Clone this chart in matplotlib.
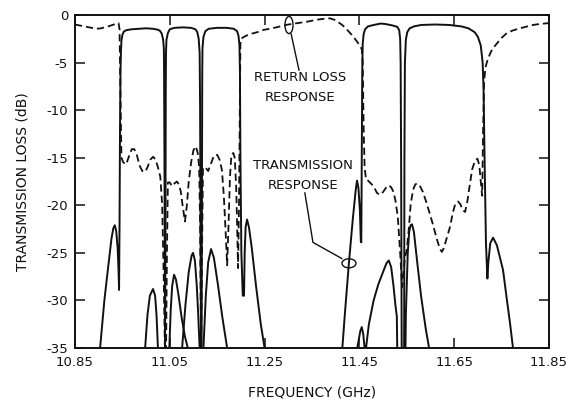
import matplotlib
matplotlib.use("Agg")
import matplotlib.pyplot as plt
from matplotlib.patches import Ellipse

# ---- data (GHz, dB) ----
ch1_f = [10.895, 10.903, 10.912, 10.920, 10.927, 10.931, 10.934, 10.937, 10.940, 10.942, 10.943,
         10.9440, 10.9450, 10.9460, 10.947, 10.948, 10.950, 10.953, 10.958, 10.970, 10.985, 11.000,
         11.015, 11.025, 11.029, 11.033, 11.036, 11.0375, 11.038, 11.039, 11.040, 11.041,
         11.047, 11.049, 11.052, 11.055, 11.059, 11.063, 11.068, 11.075, 11.082, 11.088, 11.092]
ch1_db = [-40, -35, -30, -26.5, -23.5, -22.4, -22.1, -22.7, -24.5, -27, -28.9,
          -22, -12, -6, -3.8, -2.7, -2.1, -1.75, -1.6, -1.5, -1.45, -1.4,
          -1.45, -1.55, -1.65, -1.95, -2.6, -3.5, -6, -18, -35, -40,
          -40, -35, -31, -28.5, -27.3, -27.8, -29.3, -31.8, -33.8, -35, -40]

ch2_f = [10.995, 10.998, 11.003, 11.008, 11.0146, 11.019, 11.022, 11.025, 11.027,
         11.039, 11.040, 11.041, 11.0415, 11.042, 11.043, 11.046, 11.050, 11.060, 11.078, 11.095,
         11.104, 11.108, 11.111, 11.113, 11.114, 11.115, 11.116, 11.117,
         11.118, 11.121, 11.126, 11.131, 11.137, 11.143, 11.152, 11.161, 11.171, 11.175]
ch2_db = [-40, -35, -31.5, -29.5, -28.8, -29.5, -31.5, -35, -40,
          -40, -35, -20, -8, -4, -2.6, -1.9, -1.5, -1.35, -1.3, -1.35,
          -1.5, -1.8, -2.5, -4, -10, -25, -35, -40,
          -40, -35, -29.5, -26, -24.6, -25.5, -28.5, -31.8, -35, -40]

ch3_f = [11.072, 11.076, 11.083, 11.090, 11.096, 11.099, 11.103, 11.107, 11.110, 11.113, 11.115,
         11.116, 11.117, 11.118, 11.1185, 11.119, 11.121, 11.125, 11.132, 11.150, 11.170, 11.185,
         11.192, 11.195, 11.197, 11.198, 11.199, 11.201, 11.204, 11.2066, 11.208, 11.210, 11.213,
         11.217, 11.223, 11.232, 11.242, 11.250, 11.254]
ch3_db = [-40, -35, -30.5, -27, -25.3, -25, -25.8, -28.5, -31.5, -35, -40,
          -40, -35, -15, -6, -3.5, -2.3, -1.7, -1.45, -1.35, -1.35, -1.45,
          -1.7, -2.2, -3.2, -6, -15, -25, -29.5, -29.5, -25, -22.3, -21.5,
          -22.3, -24.5, -28.5, -32.5, -35, -40]

ch4_f = [11.410, 11.414, 11.420, 11.428, 11.436, 11.442, 11.445, 11.448, 11.451, 11.453, 11.454,
         11.455, 11.456, 11.457, 11.459, 11.462, 11.468, 11.480, 11.495, 11.505, 11.520, 11.530,
         11.534, 11.536, 11.537, 11.538, 11.539, 11.5395, 11.546, 11.548, 11.552, 11.555, 11.558,
         11.561, 11.565, 11.572, 11.580, 11.590, 11.597, 11.600]
ch4_db = [-40, -35, -31, -26, -21.5, -18.5, -17.4, -18.2, -20.5, -23.8, -23.9,
          -15, -6, -3, -2, -1.5, -1.2, -1.05, -0.9, -0.95, -1.1, -1.25,
          -1.6, -2.5, -5, -15, -31.7, -40, -40, -31.5, -25, -22.8, -22.1,
          -22, -22.8, -26, -29.5, -33, -35, -40]

ch5_f = [11.440, 11.4455, 11.452, 11.455, 11.458, 11.461, 11.462, 11.464, 11.470, 11.480, 11.490,
         11.500, 11.507, 11.512, 11.517, 11.522, 11.526, 11.529, 11.531, 11.544, 11.5445, 11.545,
         11.546, 11.548, 11.551, 11.556, 11.565, 11.580, 11.610, 11.640, 11.665, 11.680, 11.693,
         11.700, 11.706, 11.710, 11.712, 11.714, 11.717, 11.720, 11.722, 11.726, 11.732, 11.740,
         11.753, 11.760, 11.768, 11.774, 11.778]
ch5_db = [-40, -35, -33.2, -32.8, -33.5, -35, -36, -35, -32.5, -30, -28.3,
          -27, -26.1, -25.8, -26.5, -28.5, -30.5, -31.7, -40, -40, -31.5, -15,
          -5, -2.6, -1.8, -1.4, -1.2, -1.05, -1.0, -1.05, -1.2, -1.4, -1.8,
          -2.3, -3.2, -5, -8, -15, -24, -27.7, -26, -24, -23.4, -24.2,
          -26.8, -29.5, -32.5, -35, -40]

rl_f = [10.850, 10.865, 10.880, 10.895, 10.905, 10.920, 10.935, 10.942, 10.944, 10.946, 10.948,
        10.952, 10.958, 10.965, 10.970, 10.975, 10.980, 10.986, 10.992, 10.998, 11.003, 11.009,
        11.015, 11.020, 11.025, 11.030, 11.034, 11.037, 11.040, 11.042, 11.044, 11.046, 11.050,
        11.055, 11.060, 11.065, 11.069, 11.073, 11.077, 11.082, 11.086, 11.090, 11.095, 11.100,
        11.105, 11.109, 11.112, 11.114, 11.116, 11.118, 11.120, 11.125, 11.131, 11.137, 11.143,
        11.150, 11.155, 11.160, 11.164, 11.168, 11.171, 11.174, 11.177, 11.180, 11.184, 11.187,
        11.190, 11.192, 11.194, 11.196, 11.198, 11.199, 11.200, 11.210, 11.220, 11.235, 11.245,
        11.260, 11.275, 11.290, 11.300, 11.320, 11.340, 11.360, 11.375, 11.388, 11.400, 11.415,
        11.425, 11.436, 11.445, 11.451, 11.455, 11.457, 11.459, 11.461, 11.464, 11.468, 11.474,
        11.480, 11.487, 11.493, 11.500, 11.507, 11.512, 11.517, 11.522, 11.526, 11.531, 11.536,
        11.540, 11.543, 11.546, 11.550, 11.554, 11.558, 11.563, 11.568, 11.572, 11.577, 11.584,
        11.590, 11.598, 11.605, 11.613, 11.620, 11.624, 11.628, 11.634, 11.641, 11.647, 11.652,
        11.658, 11.663, 11.668, 11.673, 11.678, 11.683, 11.688, 11.694, 11.699, 11.703, 11.706,
        11.709, 11.711, 11.713, 11.716, 11.721, 11.730, 11.740, 11.750, 11.761, 11.775, 11.789,
        11.800, 11.816, 11.830, 11.846, 11.850]
rl_db = [-1.0, -1.15, -1.3, -1.45, -1.4, -1.2, -0.95, -0.85, -1.5, -8, -15.0,
         -15.5, -15.7, -14.7, -14.1, -14.1, -14.6, -15.8, -16.4, -16.5, -16.0, -15.2,
         -14.9, -15.2, -16.0, -17.0, -20, -27, -36, -36, -25, -17.6, -17.6,
         -18.0, -17.7, -17.5, -17.8, -18.5, -20, -21.7, -20.0, -17.5, -15.5, -14.2,
         -13.8, -14.5, -16, -22, -36, -25, -16.1, -16.0, -16.4, -15.6, -14.8,
         -14.7, -15.2, -16.3, -19, -23, -26.3, -22, -17, -14.7, -14.5, -15,
         -18, -22, -26.6, -20, -8, -3, -2.5, -2.2, -2.0, -1.8, -1.6,
         -1.45, -1.3, -1.1, -1.0, -0.85, -0.7, -0.5, -0.4, -0.35, -0.55, -1.1,
         -1.6, -2.2, -2.8, -3.2, -3.6, -5, -12, -16, -17.3, -17.4, -17.7,
         -18.0, -18.7, -18.9, -18.6, -18.1, -17.9, -18.1, -18.6, -19.5, -21.2, -25,
         -28.6, -27, -25.5, -24.7, -22.6, -20, -18.4, -17.8, -17.7, -17.9, -18.6,
         -19.5, -20.8, -22.0, -23.5, -24.6, -24.9, -24.5, -23.5, -22.3, -20.8, -19.9,
         -19.6, -19.9, -20.5, -20.7, -19.5, -17.8, -16.2, -15.3, -15.1, -15.8, -17.5,
         -19, -12, -7, -5.5, -4.6, -3.6, -3.0, -2.4, -1.9, -1.6, -1.4,
         -1.25, -1.05, -0.95, -0.87, -0.85]

x_ticks = [10.85, 11.05, 11.25, 11.45, 11.65, 11.85]
x_labels = ["10.85", "11.05", "11.25", "11.45", "11.65", "11.85"]
y_ticks = [0, -5, -10, -15, -20, -25, -30, -35]
y_labels = ["0", "-5", "-10", "-15", "-20", "-25", "-30", "-35"]

plt.rcParams["font.family"] = ["DejaVu Sans"]
ink = "#111111"

fig = plt.figure(figsize=(5.71, 4.03), dpi=100)
ax = fig.add_axes([0.1313, 0.1365, 0.8302, 0.8263])

for f, db in [(ch1_f, ch1_db), (ch2_f, ch2_db), (ch3_f, ch3_db), (ch4_f, ch4_db), (ch5_f, ch5_db)]:
    ax.plot(f, db, color=ink, lw=1.4, solid_joinstyle="round")
ax.plot(rl_f, rl_db, color=ink, lw=1.3, dashes=(4, 2.2))

ax.set_xlim(10.85, 11.85)
ax.set_ylim(-35, 0)
ax.set_xticks(x_ticks)
ax.set_xticklabels(x_labels, fontsize=9.5)
ax.set_yticks(y_ticks)
ax.set_yticklabels(y_labels, fontsize=9.5)
ax.tick_params(direction="in", length=7, width=1.1, top=True, right=True, colors=ink)
ax.tick_params(axis="x", pad=6)
ax.tick_params(axis="y", pad=5)
for s in ax.spines.values():
    s.set_linewidth(1.4)
    s.set_color(ink)

ax.set_xlabel("FREQUENCY (GHz)", fontsize=10, color=ink, labelpad=12)
ax.set_ylabel("TRANSMISSION LOSS (dB)", fontsize=10, color=ink, labelpad=12)

# annotations
ax.text(11.325, -6.6, "RETURN LOSS", ha="center", va="center", fontsize=9.5, color=ink)
ax.text(11.325, -8.7, "RESPONSE", ha="center", va="center", fontsize=9.5, color=ink)
ax.text(11.331, -15.8, "TRANSMISSION", ha="center", va="center", fontsize=9.5, color=ink)
ax.text(11.331, -17.9, "RESPONSE", ha="center", va="center", fontsize=9.5, color=ink)

ax.add_patch(Ellipse((11.3015, -1.05), 0.017, 1.8, fill=False, lw=1.0, ec=ink))
ax.plot([11.306, 11.3226], [-2.0, -5.8], color=ink, lw=1.0)
ax.add_patch(Ellipse((11.428, -26.1), 0.0295, 0.95, fill=False, lw=1.0, ec=ink))
ax.plot([11.335, 11.352, 11.413], [-18.7, -23.9, -25.6], color=ink, lw=1.0)

fig.savefig("out.png", dpi=100)
